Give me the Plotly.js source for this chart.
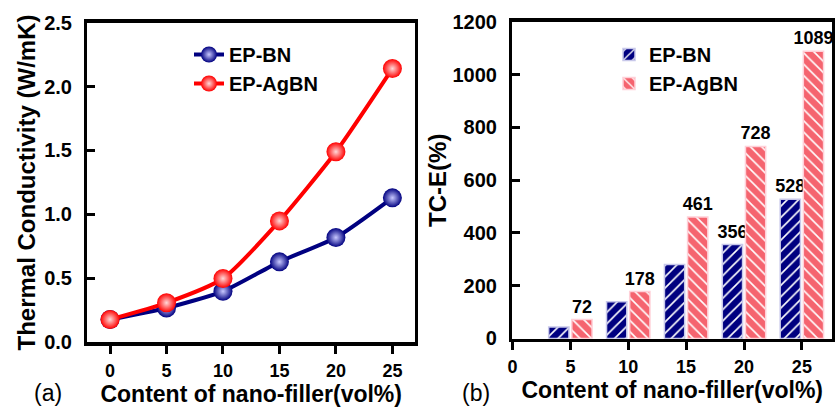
<!DOCTYPE html>
<html>
<head>
<meta charset="utf-8">
<script src="https://cdn.plot.ly/plotly-3.0.1.min.js"></script>
<style>html,body{margin:0;padding:0;background:#fff;}#chart{width:837px;height:407px;}</style>
</head>
<body>
<div id="chart"></div>
<script>
// Panel (a): thermal conductivity
var contentA = [0, 5, 10, 15, 20, 25];
var tcBN = [0.18, 0.27, 0.40, 0.63, 0.82, 1.13];
var tcAgBN = [0.18, 0.31, 0.50, 0.95, 1.49, 2.14];
// Panel (b): thermal conductivity enhancement
var contentB = [5, 10, 15, 20, 25];
var tceBN = [44, 139, 281, 356, 528];
var tceAgBN = [72, 178, 461, 728, 1089];
var tceBNLabels = ['', '', '', '356', '528'];
var tceAgBNLabels = ['72', '178', '461', '728', '1089'];
var seriesNames = ['EP-BN', 'EP-AgBN'];

var FONT = 'Liberation Sans, Arial, sans-serif';
var NAVY = '#000080', RED = '#ff0000', PINK = '#f5646f';

var traces = [
  {x: contentA, y: tcBN, name: seriesNames[0], type: 'scatter', mode: 'lines+markers',
   xaxis: 'x', yaxis: 'y', legend: 'legend',
   line: {color: NAVY, width: 4, shape: 'spline', smoothing: 0.6},
   marker: {size: 19, color: NAVY, gradient: {type: 'radial', color: '#c8c8ff'}}},
  {x: contentA, y: tcAgBN, name: seriesNames[1], type: 'scatter', mode: 'lines+markers',
   xaxis: 'x', yaxis: 'y', legend: 'legend',
   line: {color: RED, width: 4, shape: 'spline', smoothing: 0.6},
   marker: {size: 19, color: RED, gradient: {type: 'radial', color: '#ffd8d8'}}},
  {x: contentB, y: tceBN, name: seriesNames[0], type: 'bar', xaxis: 'x2', yaxis: 'y2', legend: 'legend2',
   text: tceBNLabels, textposition: 'outside', cliponaxis: false, constraintext: 'none',
   textfont: {family: FONT, size: 18, color: '#000', weight: 'bold'},
   marker: {color: NAVY, line: {color: '#c8c8ea', width: 1.5},
            pattern: {shape: '/', fillmode: 'replace', bgcolor: NAVY, fgcolor: '#ffffff', size: 8, solidity: 0.2}}},
  {x: contentB, y: tceAgBN, name: seriesNames[1], type: 'bar', xaxis: 'x2', yaxis: 'y2', legend: 'legend2',
   text: tceAgBNLabels, textposition: 'outside', cliponaxis: false, constraintext: 'none',
   textfont: {family: FONT, size: 18, color: '#000', weight: 'bold'},
   marker: {color: PINK, line: {color: '#ffd0d8', width: 1.5},
            pattern: {shape: '\\', fillmode: 'replace', bgcolor: PINK, fgcolor: '#ffffff', size: 8, solidity: 0.2}}}
];

var tickFont = {family: FONT, size: 20, color: '#000', weight: 'bold'};
var xTickFont = {family: FONT, size: 18, color: '#000', weight: 'bold'};
var titleFont = {family: FONT, size: 24, color: '#000', weight: 'bold'};
var xTitleFont = {family: FONT, size: 23, color: '#000', weight: 'bold'};
var axBase = {showline: true, linewidth: 3.5, linecolor: '#000', mirror: true,
              showgrid: false, zeroline: false, tickfont: tickFont,
              tickwidth: 3, tickcolor: '#000', ticklen: 8};

var layout = {
  width: 837, height: 407,
  margin: {l: 0, r: 0, t: 0, b: 0},
  paper_bgcolor: '#fff', plot_bgcolor: '#fff',
  font: {family: FONT, color: '#000'},
  barmode: 'group', bargap: 0.2, bargroupgap: 0.125,
  xaxis: Object.assign({}, axBase, {domain: [0.1045, 0.4958], range: [-2, 27], tickfont: xTickFont,
    tickmode: 'array', tickvals: [0, 5, 10, 15, 20, 25], ticks: 'outside', ticklabelstandoff: 1,
    title: {text: 'Content of nano-filler(vol%)', font: xTitleFont, standoff: 6}, anchor: 'y'}),
  yaxis: Object.assign({}, axBase, {domain: [0.1585, 0.9447], range: [0, 2.5],
    tickmode: 'array', tickvals: [0, 0.5, 1, 1.5, 2, 2.5],
    ticktext: ['0.0', '0.5', '1.0', '1.5', '2.0', '2.5'], ticks: 'inside', ticklabelstandoff: 8,
    title: {text: 'Thermal Conductivity (W/mK)', font: titleFont, standoff: 2}, anchor: 'x'}),
  xaxis2: Object.assign({}, axBase, {domain: [0.6123, 0.994], range: [0, 27.6], tickfont: xTickFont,
    tickmode: 'array', tickvals: [0, 5, 10, 15, 20, 25], ticks: 'outside', ticklabelstandoff: 1,
    title: {text: 'Content of nano-filler(vol%)', font: xTitleFont, standoff: 6}, anchor: 'y2'}),
  yaxis2: Object.assign({}, axBase, {domain: [0.1683, 0.946], range: [0, 1200],
    tickmode: 'array', tickvals: [0, 200, 400, 600, 800, 1000, 1200], ticks: 'inside', ticklabelstandoff: 8,
    title: {text: 'TC-E(%)', font: titleFont, standoff: 0}, anchor: 'x2'}),
  legend: {x: 0.2258, y: 0.914, xanchor: 'left', yanchor: 'top', bgcolor: 'rgba(0,0,0,0)',
    font: {family: FONT, size: 20, color: '#000', weight: 'bold'}},
  legend2: {x: 0.7276, y: 0.914, xanchor: 'left', yanchor: 'top', bgcolor: 'rgba(0,0,0,0)',
    font: {family: FONT, size: 20, color: '#000', weight: 'bold'}},
  annotations: [
    {text: '(a)', x: 32, y: 393, xref: 'paper', yref: 'paper', showarrow: false,
     font: {family: FONT, size: 23, color: '#000'}},
    {text: '(b)', x: 460, y: 393, xref: 'paper', yref: 'paper', showarrow: false,
     font: {family: FONT, size: 23, color: '#000'}}
  ]
};
// convert annotation pixel positions to paper fractions
layout.annotations.forEach(function(a){ a.x = a.x / 837; a.y = 1 - a.y / 407; a.xanchor = 'left'; a.yanchor = 'middle'; });

Plotly.newPlot('chart', traces, layout, {displayModeBar: false, staticPlot: true});
</script>
</body>
</html>
